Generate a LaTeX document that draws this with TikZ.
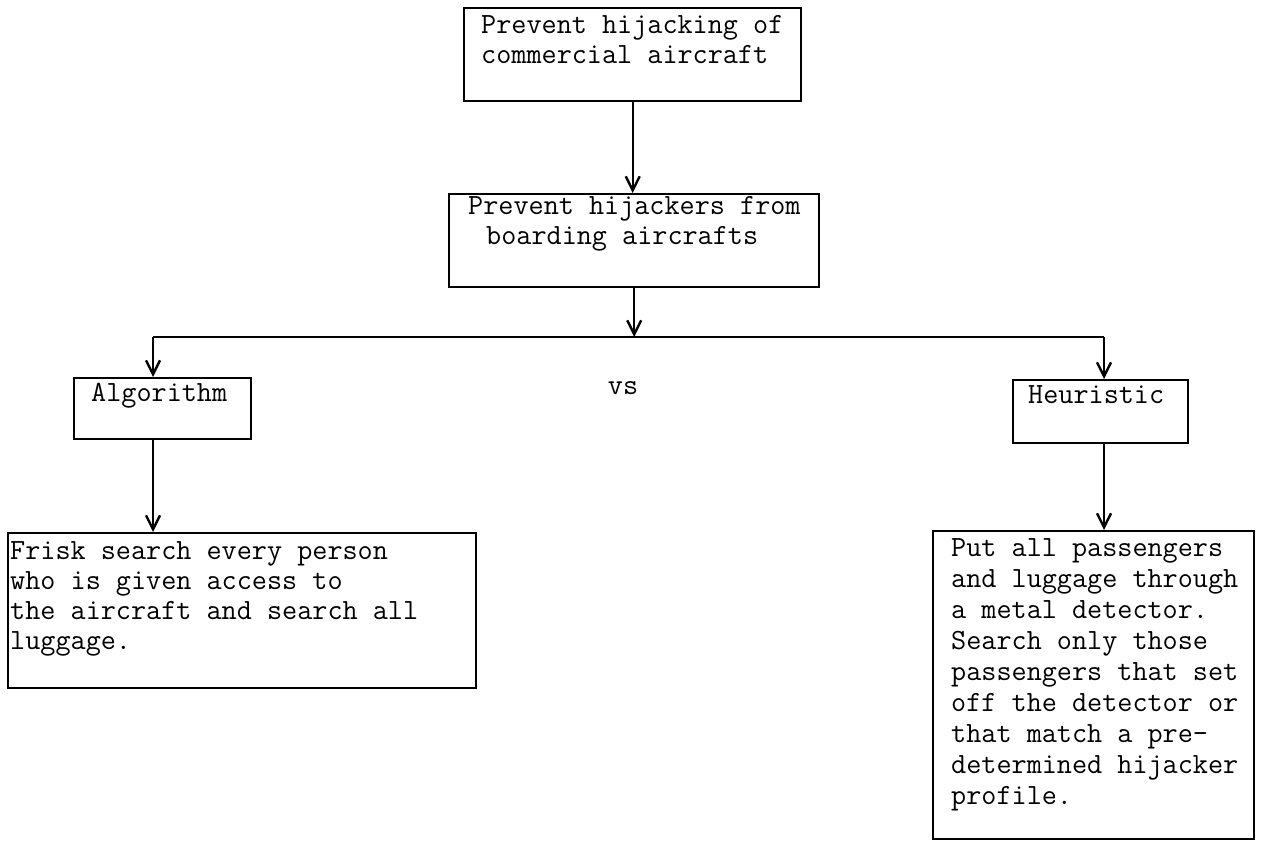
\documentclass[tikz,border=0pt]{standalone}
\usepackage{fontspec}
\usepackage{tikz}
\usetikzlibrary{arrows.meta}

% width, height, left margin, first baseline, text
\newcommand{\cardtext}[5]{\parbox[c][#2][t]{#1}{\leftskip=#3\relax\rule{0pt}{#4}#5}}

\begin{document}
\begin{tikzpicture}[x=0.5pt, y=-0.5pt, line width=1pt,
    typed/.style={font=\ttfamily\fontsize{14.67}{15}\selectfont},
    card/.style={typed, draw, line width=1.2pt, inner sep=0pt, anchor=north west},
    link/.style={-{Straight Barb[length=7pt, width=7pt, line width=1.2pt]}}]
\useasboundingbox (0, 0) rectangle (1270, 844);

    % draw goal boxes
    \node[card] (goal) at (463, 7) {\cardtext{168.5pt}{46.5pt}{8.5pt}{12.5pt}{Prevent hijacking of\\commercial aircraft}};
    \node[card] (means) at (448, 193) {\cardtext{185pt}{46.5pt}{9.5pt}{10pt}{Prevent hijackers from\\\hspace*{9pt}boarding aircrafts}};

    % draw method boxes
    \node[card] (algo) at (73, 377) {\cardtext{88.5pt}{30.5pt}{8.5pt}{11.5pt}{Algorithm}};
    \node[card] (heur) at (1012, 379) {\cardtext{87.5pt}{31.5pt}{7.5pt}{11.5pt}{Heuristic}};
    \node[typed, anchor=base] (vs) at (623, 395) {vs};

    % draw description boxes
    \node[card] (frisk) at (7, 532) {\cardtext{234pt}{77.5pt}{1pt}{13pt}{Frisk search every person\\who is given access to\\the aircraft and search all\\luggage.}};
    \node[card, font=\ttfamily\fontsize{14.67}{15.5}\selectfont] (detect) at (932, 530) {\cardtext{160.5pt}{154pt}{9pt}{12.5pt}{Put all passengers\\and luggage through\\a metal detector.\\Search only those\\passengers that set\\off the detector or\\that match a pre-\\determined hijacker\\profile.}};

    % draw connectors
    \coordinate (busL) at (153, 337);
    \coordinate (busR) at (1104, 337);
    \draw[link] (goal.south) -- (goal.south |- means.north);
    \draw[link] (means.south) -- (means.south |- busL);
    \draw (busL) -- (busR);
    \draw[link] (busL) -- (busL |- algo.north);
    \draw[link] (busR) -- (busR |- heur.north);
    \draw[link] (busL |- algo.south) -- (busL |- frisk.north);
    \draw[link] (busR |- heur.south) -- (busR |- detect.north);
\end{tikzpicture}
\end{document}
